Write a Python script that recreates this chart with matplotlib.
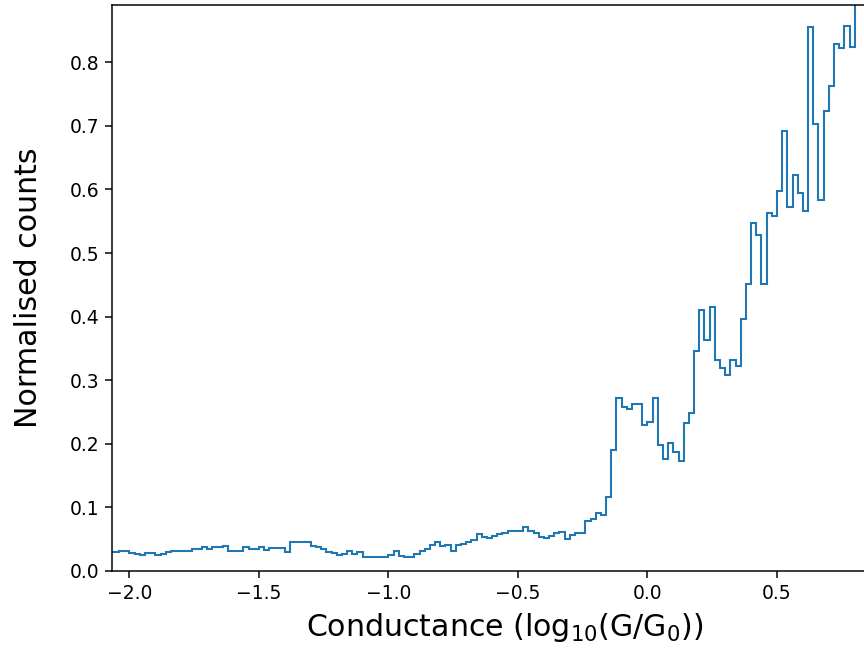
import numpy as np
import matplotlib
matplotlib.use("Agg")
import matplotlib.pyplot as plt

# Histogram of log10(G/G0): bins of 0.02 starting at -2.08
bin_start = -2.08
bin_width = 0.02
counts = [
    # -2.08 .. -1.50
    0.030, 0.030, 0.031, 0.032, 0.029, 0.027, 0.025, 0.029, 0.029, 0.025,
    0.027, 0.030, 0.031, 0.031, 0.032, 0.032, 0.034, 0.034, 0.037, 0.035,
    0.037, 0.037, 0.039, 0.032, 0.032, 0.032, 0.037, 0.034, 0.034, 0.037,
    # -1.48 .. -0.90
    0.033, 0.036, 0.036, 0.036, 0.030, 0.046, 0.046, 0.046, 0.046, 0.040,
    0.038, 0.035, 0.030, 0.028, 0.025, 0.026, 0.031, 0.027, 0.030, 0.0225,
    0.0225, 0.0225, 0.0225, 0.0225, 0.025, 0.031, 0.024, 0.0225, 0.0225, 0.026,
    # -0.88 .. -0.30
    0.031, 0.034, 0.041, 0.046, 0.039, 0.041, 0.032, 0.041, 0.0425, 0.046,
    0.048, 0.058, 0.053, 0.0514, 0.055, 0.058, 0.060, 0.0634, 0.0634, 0.0634,
    0.0687, 0.0634, 0.059, 0.053, 0.0514, 0.055, 0.059, 0.062, 0.050, 0.0566,
    # -0.28 .. 0.30
    0.059, 0.060, 0.079, 0.081, 0.091, 0.088, 0.117, 0.190, 0.2715, 0.258,
    0.254, 0.2626, 0.2626, 0.2296, 0.2348, 0.2715, 0.198, 0.1756, 0.2018, 0.1877,
    0.1735, 0.232, 0.248, 0.346, 0.411, 0.363, 0.4156, 0.331, 0.319, 0.3077,
    # 0.32 .. 0.82
    0.331, 0.323, 0.397, 0.451, 0.5467, 0.528, 0.451, 0.5624, 0.558, 0.598,
    0.692, 0.573, 0.6226, 0.595, 0.5666, 0.855, 0.703, 0.583, 0.723, 0.7626,
    0.828, 0.822, 0.857, 0.824, 0.95, 0.92,
]
x_ticks = [-2.0, -1.5, -1.0, -0.5, 0.0, 0.5]
y_ticks = [0.0, 0.1, 0.2, 0.3, 0.4, 0.5, 0.6, 0.7, 0.8]

counts = np.array(counts)
edges = bin_start + bin_width * np.arange(len(counts) + 1)

W, H = 864, 649
dpi = 135
fig = plt.figure(figsize=(W / dpi, H / dpi), dpi=dpi)

xlim = (-2.067, 0.85)
ylim = (0.0, 0.89)
px0, px_per_unit = 647.5, 259.0
left_px = px0 + px_per_unit * xlim[0]
right_px = px0 + px_per_unit * xlim[1]
bottom_px, top_px = 571, 5
ax = fig.add_axes([left_px / W, (H - bottom_px) / H,
                   (right_px - left_px) / W, (bottom_px - top_px) / H])

ax.stairs(counts, edges, color='#1f77b4', linewidth=1.1)
ax.set_xlim(*xlim)
ax.set_ylim(*ylim)
ax.set_xticks(x_ticks)
ax.set_yticks(y_ticks)
ax.set_xlabel(r'Conductance (log$_{10}$(G/G$_0$))', fontsize=16)
ax.xaxis.set_label_coords((505 - left_px) / (right_px - left_px), -0.071)
ax.set_ylabel('Normalised counts', fontsize=16, labelpad=14)

fig.savefig('out.png', dpi=dpi)
